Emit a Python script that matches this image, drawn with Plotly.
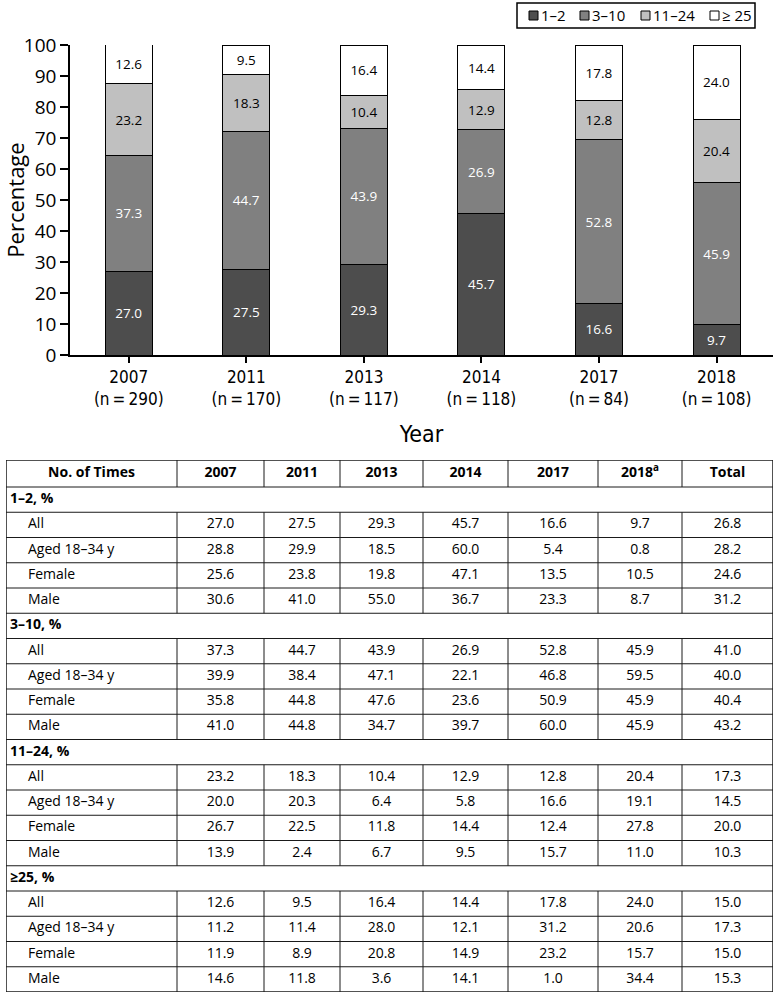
import plotly.graph_objects as go

# ---- chart data -------------------------------------------------------------
YEARS = ["2007", "2011", "2013", "2014", "2017", "2018"]
SAMPLE_N = [290, 170, 117, 118, 84, 108]

TIMES_1_2 = [27.0, 27.5, 29.3, 45.7, 16.6, 9.7]
TIMES_3_10 = [37.3, 44.7, 43.9, 26.9, 52.8, 45.9]
TIMES_11_24 = [23.2, 18.3, 10.4, 12.9, 12.8, 20.4]
TIMES_25_UP = [12.6, 9.5, 16.4, 14.4, 17.8, 24.0]

SERIES_NAMES = ["1–2", "3–10", "11–24", "≥ 25"]

# ---- table data -------------------------------------------------------------
TABLE_HEADER = ["No. of Times", "2007", "2011", "2013", "2014", "2017",
                "2018<sup>a</sup>", "Total"]
SECTION_LABELS = ["1–2, %", "3–10, %", "11–24, %", "≥25, %"]
ROW_LABELS = ["All", "Aged 18–34 y", "Female", "Male"]

TBL_1_2 = [
    [27.0, 27.5, 29.3, 45.7, 16.6, 9.7, 26.8],
    [28.8, 29.9, 18.5, 60.0, 5.4, 0.8, 28.2],
    [25.6, 23.8, 19.8, 47.1, 13.5, 10.5, 24.6],
    [30.6, 41.0, 55.0, 36.7, 23.3, 8.7, 31.2],
]
TBL_3_10 = [
    [37.3, 44.7, 43.9, 26.9, 52.8, 45.9, 41.0],
    [39.9, 38.4, 47.1, 22.1, 46.8, 59.5, 40.0],
    [35.8, 44.8, 47.6, 23.6, 50.9, 45.9, 40.4],
    [41.0, 44.8, 34.7, 39.7, 60.0, 45.9, 43.2],
]
TBL_11_24 = [
    [23.2, 18.3, 10.4, 12.9, 12.8, 20.4, 17.3],
    [20.0, 20.3, 6.4, 5.8, 16.6, 19.1, 14.5],
    [26.7, 22.5, 11.8, 14.4, 12.4, 27.8, 20.0],
    [13.9, 2.4, 6.7, 9.5, 15.7, 11.0, 10.3],
]
TBL_25_UP = [
    [12.6, 9.5, 16.4, 14.4, 17.8, 24.0, 15.0],
    [11.2, 11.4, 28.0, 12.1, 31.2, 20.6, 17.3],
    [11.9, 8.9, 20.8, 14.9, 23.2, 15.7, 15.0],
    [14.6, 11.8, 3.6, 14.1, 1.0, 34.4, 15.3],
]

# ---- styling ----------------------------------------------------------------
W, H = 777, 994
FONT = "Open Sans, Noto Sans, sans-serif"
NARROW = "DejaVu Sans Condensed, Liberation Sans Narrow, Open Sans, sans-serif"
FILLS = ["#4d4d4d", "#808080", "#c0c0c0", "#ffffff"]
TEXT_COLORS = ["white", "white", "black", "black"]

# legend box (pixels) and swatch left edges
LEGEND_BOX = (517, 3, 755, 28)
LEGEND_SWATCH_X = [529, 580, 641, 710]

# table geometry (pixels, mapped 1:1 through xaxis2 / yaxis2)
COL_EDGES = [6, 177, 264, 340, 423, 508, 598, 682, 773]
TABLE_TOP, HEADER_BOTTOM, TABLE_BOTTOM = 460, 487, 992
LINE = {"color": "#1a1a1a", "width": 1}

fig = go.Figure()

# stacked bars
for name, vals, fill, tcol in zip(
    SERIES_NAMES, [TIMES_1_2, TIMES_3_10, TIMES_11_24, TIMES_25_UP],
    FILLS, TEXT_COLORS,
):
    fig.add_trace(
        go.Bar(
            x=YEARS,
            y=vals,
            name=name,
            width=0.4,
            marker={"color": fill, "line": {"color": "black", "width": 1}},
            text=[f"{v:.1f}" for v in vals],
            textposition="inside",
            insidetextanchor="middle",
            textangle=0,
            textfont={"family": FONT, "size": 13.5, "color": tcol},
            hoverinfo="skip",
            showlegend=False,
        )
    )

# ---- table ------------------------------------------------------------------
sections = [TBL_1_2, TBL_3_10, TBL_11_24, TBL_25_UP]
n_body = len(sections) * (1 + len(ROW_LABELS))
row_h = (TABLE_BOTTOM - HEADER_BOTTOM) / n_body
col_mid = [(a + b) / 2 for a, b in zip(COL_EDGES[:-1], COL_EDGES[1:])]

section_y, row_y = [], []
row_vals = []
for s, block in enumerate(sections):
    top = HEADER_BOTTOM + s * 5 * row_h
    section_y.append(top + row_h / 2)
    for r, vals in enumerate(block):
        row_y.append(top + (r + 1.5) * row_h)
        row_vals.append(vals)

tbl_axes = {"xaxis": "x2", "yaxis": "y2", "hoverinfo": "skip",
            "showlegend": False, "mode": "text", "cliponaxis": False}

header_y = (TABLE_TOP + HEADER_BOTTOM) / 2
fig.add_trace(go.Scatter(
    x=col_mid, y=[header_y] * len(col_mid),
    text=[f"<b>{h}</b>" for h in TABLE_HEADER],
    textposition="middle center",
    textfont={"family": FONT, "size": 14, "color": "black"},
    **tbl_axes,
))
fig.add_trace(go.Scatter(
    x=[10] * len(section_y), y=section_y,
    text=[f"<b>{s}</b>" for s in SECTION_LABELS],
    textposition="middle right",
    textfont={"family": FONT, "size": 14, "color": "black"},
    **tbl_axes,
))
fig.add_trace(go.Scatter(
    x=[28] * len(row_y), y=row_y,
    text=ROW_LABELS * len(sections),
    textposition="middle right",
    textfont={"family": FONT, "size": 14, "color": "black"},
    **tbl_axes,
))
for j in range(len(TABLE_HEADER) - 1):
    fig.add_trace(go.Scatter(
        x=[col_mid[j + 1]] * len(row_y), y=row_y,
        text=[f"{vals[j]:.1f}" for vals in row_vals],
        textposition="middle center",
        textfont={"family": FONT, "size": 14, "color": "black"},
        **tbl_axes,
    ))

shapes = []
# outer border
shapes.append(dict(type="rect", xref="x2", yref="y2", x0=COL_EDGES[0],
                   x1=COL_EDGES[-1], y0=TABLE_TOP, y1=TABLE_BOTTOM,
                   line={"color": "#1a1a1a", "width": 1.5}))
# horizontal rules
for k in range(n_body):
    y = HEADER_BOTTOM + k * row_h
    shapes.append(dict(type="line", xref="x2", yref="y2", x0=COL_EDGES[0],
                       x1=COL_EDGES[-1], y0=y, y1=y, line=LINE))
# vertical rules (header + data blocks, not section rows)
spans = [(TABLE_TOP, HEADER_BOTTOM)]
for s in range(len(sections)):
    top = HEADER_BOTTOM + s * 5 * row_h
    spans.append((top + row_h, top + 5 * row_h))
for xe in COL_EDGES[1:-1]:
    for y0, y1 in spans:
        shapes.append(dict(type="line", xref="x2", yref="y2", x0=xe, x1=xe,
                           y0=y0, y1=y1, line=LINE))

# ---- legend (drawn by hand to match the compact boxed key) -----------------
annotations = []
lx0, ly0, lx1, ly1 = LEGEND_BOX
shapes.append(dict(type="rect", xref="paper", yref="paper",
                   x0=lx0 / W, x1=lx1 / W, y0=1 - ly1 / H, y1=1 - ly0 / H,
                   line={"color": "black", "width": 1.5}))
for name, fill, sx in zip(SERIES_NAMES, FILLS, LEGEND_SWATCH_X):
    shapes.append(dict(type="rect", xref="paper", yref="paper",
                       x0=sx / W, x1=(sx + 9) / W,
                       y0=1 - 20 / H, y1=1 - 11 / H,
                       fillcolor=fill, line={"color": "black", "width": 1}))
    annotations.append(dict(xref="paper", yref="paper", x=(sx + 10) / W,
                            y=1 - 15.5 / H, xanchor="left", yanchor="middle",
                            text=name, showarrow=False,
                            font={"family": FONT, "size": 15}))

tick_text = [f"{y}<br>(n\u2009=\u2009{n})" for y, n in zip(YEARS, SAMPLE_N)]

fig.update_layout(
    width=W,
    height=H,
    margin={"l": 0, "r": 0, "t": 0, "b": 0, "autoexpand": False},
    paper_bgcolor="white",
    plot_bgcolor="white",
    barmode="stack",
    font={"family": FONT, "color": "black"},
    shapes=shapes,
    annotations=annotations,
    showlegend=False,
    xaxis={
        "domain": [70 / W, 773 / W],
        "range": [-0.5, 5.48],
        "tickvals": YEARS,
        "ticktext": tick_text,
        "tickfont": {"family": NARROW, "size": 17},
        "showline": True, "linecolor": "black", "linewidth": 1.5,
        "ticks": "outside", "ticklen": 6, "tickwidth": 1.5,
        "tickcolor": "black",
        "showgrid": False, "zeroline": False, "automargin": False,
        "title": {"text": "Year", "font": {"family": NARROW, "size": 23},
                  "standoff": 18},
    },
    yaxis={
        "domain": [1 - 355 / H, 1 - 45 / H],
        "range": [0, 100],
        "dtick": 10,
        "tickfont": {"size": 19},
        "showline": True, "linecolor": "black", "linewidth": 1.5,
        "ticks": "outside", "ticklen": 8, "tickwidth": 1.5,
        "tickcolor": "black",
        "showgrid": False, "zeroline": False, "automargin": False,
        "title": {"text": "Percentage", "font": {"size": 22}, "standoff": 0},
    },
    xaxis2={
        "domain": [COL_EDGES[0] / W, COL_EDGES[-1] / W],
        "range": [COL_EDGES[0], COL_EDGES[-1]],
        "visible": False, "anchor": "y2",
    },
    yaxis2={
        "domain": [1 - TABLE_BOTTOM / H, 1 - TABLE_TOP / H],
        "range": [TABLE_BOTTOM, TABLE_TOP],
        "visible": False, "anchor": "x2",
    },
)

# the page's default body margin would push the figure off the window edge
fig.write_html(
    "out.html",
    config={"displayModeBar": False},
    post_script="document.body.style.margin = '0';",
)
